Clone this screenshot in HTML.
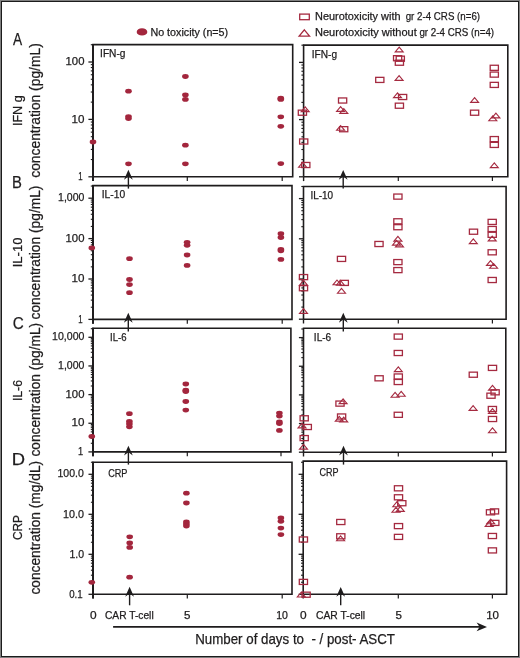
<!DOCTYPE html>
<html><head><meta charset="utf-8"><style>
html,body{margin:0;padding:0;background:#fff;}
svg{display:block;will-change:transform;}
text{font-family:"Liberation Sans", sans-serif;white-space:pre;stroke:#1e1c1d;stroke-width:0.25px;}
</style></head><body>
<svg width="520" height="658" viewBox="0 0 520 658">
<rect x="0" y="0" width="520" height="658" fill="#808080"/>
<rect x="1" y="1" width="518" height="656" fill="#1c1c1c"/>
<rect x="2" y="2" width="516" height="654" fill="#ffffff"/>
<path d="M93.00,176.80 V44.60 H292.70 V176.80 H93.00" fill="none" stroke="#1e1c1d" stroke-width="1.6" stroke-linejoin="miter"/>
<line x1="93.00" y1="44.10" x2="93.00" y2="181.10" stroke="#1e1c1d" stroke-width="1.9"/>
<line x1="93.00" y1="176.80" x2="93.00" y2="181.10" stroke="#1e1c1d" stroke-width="1.4"/>
<line x1="187.30" y1="176.80" x2="187.30" y2="181.10" stroke="#1e1c1d" stroke-width="1.2"/>
<line x1="282.20" y1="176.80" x2="282.20" y2="181.10" stroke="#1e1c1d" stroke-width="1.2"/>
<line x1="88.40" y1="176.80" x2="93.00" y2="176.80" stroke="#1e1c1d" stroke-width="1.3"/>
<line x1="90.80" y1="159.52" x2="93.00" y2="159.52" stroke="#1e1c1d" stroke-width="1.1"/>
<line x1="90.80" y1="149.41" x2="93.00" y2="149.41" stroke="#1e1c1d" stroke-width="1.1"/>
<line x1="90.80" y1="142.24" x2="93.00" y2="142.24" stroke="#1e1c1d" stroke-width="1.1"/>
<line x1="90.80" y1="136.68" x2="93.00" y2="136.68" stroke="#1e1c1d" stroke-width="1.1"/>
<line x1="90.80" y1="132.13" x2="93.00" y2="132.13" stroke="#1e1c1d" stroke-width="1.1"/>
<line x1="90.80" y1="128.29" x2="93.00" y2="128.29" stroke="#1e1c1d" stroke-width="1.1"/>
<line x1="90.80" y1="124.96" x2="93.00" y2="124.96" stroke="#1e1c1d" stroke-width="1.1"/>
<line x1="90.80" y1="122.03" x2="93.00" y2="122.03" stroke="#1e1c1d" stroke-width="1.1"/>
<line x1="88.40" y1="119.40" x2="93.00" y2="119.40" stroke="#1e1c1d" stroke-width="1.3"/>
<line x1="90.80" y1="102.12" x2="93.00" y2="102.12" stroke="#1e1c1d" stroke-width="1.1"/>
<line x1="90.80" y1="92.01" x2="93.00" y2="92.01" stroke="#1e1c1d" stroke-width="1.1"/>
<line x1="90.80" y1="84.84" x2="93.00" y2="84.84" stroke="#1e1c1d" stroke-width="1.1"/>
<line x1="90.80" y1="79.28" x2="93.00" y2="79.28" stroke="#1e1c1d" stroke-width="1.1"/>
<line x1="90.80" y1="74.73" x2="93.00" y2="74.73" stroke="#1e1c1d" stroke-width="1.1"/>
<line x1="90.80" y1="70.89" x2="93.00" y2="70.89" stroke="#1e1c1d" stroke-width="1.1"/>
<line x1="90.80" y1="67.56" x2="93.00" y2="67.56" stroke="#1e1c1d" stroke-width="1.1"/>
<line x1="90.80" y1="64.63" x2="93.00" y2="64.63" stroke="#1e1c1d" stroke-width="1.1"/>
<line x1="88.40" y1="62.00" x2="93.00" y2="62.00" stroke="#1e1c1d" stroke-width="1.3"/>
<line x1="90.80" y1="44.72" x2="93.00" y2="44.72" stroke="#1e1c1d" stroke-width="1.1"/>
<path d="M93.00,319.40 V185.60 H292.00 V319.40 H93.00" fill="none" stroke="#1e1c1d" stroke-width="1.6" stroke-linejoin="miter"/>
<line x1="93.00" y1="185.10" x2="93.00" y2="323.70" stroke="#1e1c1d" stroke-width="1.9"/>
<line x1="93.00" y1="319.40" x2="93.00" y2="323.70" stroke="#1e1c1d" stroke-width="1.4"/>
<line x1="187.30" y1="319.40" x2="187.30" y2="323.70" stroke="#1e1c1d" stroke-width="1.2"/>
<line x1="282.20" y1="319.40" x2="282.20" y2="323.70" stroke="#1e1c1d" stroke-width="1.2"/>
<line x1="88.40" y1="319.40" x2="93.00" y2="319.40" stroke="#1e1c1d" stroke-width="1.3"/>
<line x1="90.80" y1="307.24" x2="93.00" y2="307.24" stroke="#1e1c1d" stroke-width="1.1"/>
<line x1="90.80" y1="300.12" x2="93.00" y2="300.12" stroke="#1e1c1d" stroke-width="1.1"/>
<line x1="90.80" y1="295.08" x2="93.00" y2="295.08" stroke="#1e1c1d" stroke-width="1.1"/>
<line x1="90.80" y1="291.16" x2="93.00" y2="291.16" stroke="#1e1c1d" stroke-width="1.1"/>
<line x1="90.80" y1="287.96" x2="93.00" y2="287.96" stroke="#1e1c1d" stroke-width="1.1"/>
<line x1="90.80" y1="285.26" x2="93.00" y2="285.26" stroke="#1e1c1d" stroke-width="1.1"/>
<line x1="90.80" y1="282.92" x2="93.00" y2="282.92" stroke="#1e1c1d" stroke-width="1.1"/>
<line x1="90.80" y1="280.85" x2="93.00" y2="280.85" stroke="#1e1c1d" stroke-width="1.1"/>
<line x1="88.40" y1="279.00" x2="93.00" y2="279.00" stroke="#1e1c1d" stroke-width="1.3"/>
<line x1="90.80" y1="266.84" x2="93.00" y2="266.84" stroke="#1e1c1d" stroke-width="1.1"/>
<line x1="90.80" y1="259.72" x2="93.00" y2="259.72" stroke="#1e1c1d" stroke-width="1.1"/>
<line x1="90.80" y1="254.68" x2="93.00" y2="254.68" stroke="#1e1c1d" stroke-width="1.1"/>
<line x1="90.80" y1="250.76" x2="93.00" y2="250.76" stroke="#1e1c1d" stroke-width="1.1"/>
<line x1="90.80" y1="247.56" x2="93.00" y2="247.56" stroke="#1e1c1d" stroke-width="1.1"/>
<line x1="90.80" y1="244.86" x2="93.00" y2="244.86" stroke="#1e1c1d" stroke-width="1.1"/>
<line x1="90.80" y1="242.52" x2="93.00" y2="242.52" stroke="#1e1c1d" stroke-width="1.1"/>
<line x1="90.80" y1="240.45" x2="93.00" y2="240.45" stroke="#1e1c1d" stroke-width="1.1"/>
<line x1="88.40" y1="238.60" x2="93.00" y2="238.60" stroke="#1e1c1d" stroke-width="1.3"/>
<line x1="90.80" y1="226.44" x2="93.00" y2="226.44" stroke="#1e1c1d" stroke-width="1.1"/>
<line x1="90.80" y1="219.32" x2="93.00" y2="219.32" stroke="#1e1c1d" stroke-width="1.1"/>
<line x1="90.80" y1="214.28" x2="93.00" y2="214.28" stroke="#1e1c1d" stroke-width="1.1"/>
<line x1="90.80" y1="210.36" x2="93.00" y2="210.36" stroke="#1e1c1d" stroke-width="1.1"/>
<line x1="90.80" y1="207.16" x2="93.00" y2="207.16" stroke="#1e1c1d" stroke-width="1.1"/>
<line x1="90.80" y1="204.46" x2="93.00" y2="204.46" stroke="#1e1c1d" stroke-width="1.1"/>
<line x1="90.80" y1="202.12" x2="93.00" y2="202.12" stroke="#1e1c1d" stroke-width="1.1"/>
<line x1="90.80" y1="200.05" x2="93.00" y2="200.05" stroke="#1e1c1d" stroke-width="1.1"/>
<line x1="88.40" y1="198.20" x2="93.00" y2="198.20" stroke="#1e1c1d" stroke-width="1.3"/>
<line x1="90.80" y1="186.04" x2="93.00" y2="186.04" stroke="#1e1c1d" stroke-width="1.1"/>
<path d="M93.00,451.90 V328.20 H290.90 V451.90 H93.00" fill="none" stroke="#1e1c1d" stroke-width="1.6" stroke-linejoin="miter"/>
<line x1="93.00" y1="327.70" x2="93.00" y2="456.20" stroke="#1e1c1d" stroke-width="1.9"/>
<line x1="93.00" y1="451.90" x2="93.00" y2="456.20" stroke="#1e1c1d" stroke-width="1.4"/>
<line x1="187.30" y1="451.90" x2="187.30" y2="456.20" stroke="#1e1c1d" stroke-width="1.2"/>
<line x1="281.00" y1="451.90" x2="281.00" y2="456.20" stroke="#1e1c1d" stroke-width="1.2"/>
<line x1="88.40" y1="451.90" x2="93.00" y2="451.90" stroke="#1e1c1d" stroke-width="1.3"/>
<line x1="90.80" y1="443.28" x2="93.00" y2="443.28" stroke="#1e1c1d" stroke-width="1.1"/>
<line x1="90.80" y1="438.23" x2="93.00" y2="438.23" stroke="#1e1c1d" stroke-width="1.1"/>
<line x1="90.80" y1="434.65" x2="93.00" y2="434.65" stroke="#1e1c1d" stroke-width="1.1"/>
<line x1="90.80" y1="431.87" x2="93.00" y2="431.87" stroke="#1e1c1d" stroke-width="1.1"/>
<line x1="90.80" y1="429.61" x2="93.00" y2="429.61" stroke="#1e1c1d" stroke-width="1.1"/>
<line x1="90.80" y1="427.69" x2="93.00" y2="427.69" stroke="#1e1c1d" stroke-width="1.1"/>
<line x1="90.80" y1="426.03" x2="93.00" y2="426.03" stroke="#1e1c1d" stroke-width="1.1"/>
<line x1="90.80" y1="424.56" x2="93.00" y2="424.56" stroke="#1e1c1d" stroke-width="1.1"/>
<line x1="88.40" y1="423.25" x2="93.00" y2="423.25" stroke="#1e1c1d" stroke-width="1.3"/>
<line x1="90.80" y1="414.63" x2="93.00" y2="414.63" stroke="#1e1c1d" stroke-width="1.1"/>
<line x1="90.80" y1="409.58" x2="93.00" y2="409.58" stroke="#1e1c1d" stroke-width="1.1"/>
<line x1="90.80" y1="406.00" x2="93.00" y2="406.00" stroke="#1e1c1d" stroke-width="1.1"/>
<line x1="90.80" y1="403.22" x2="93.00" y2="403.22" stroke="#1e1c1d" stroke-width="1.1"/>
<line x1="90.80" y1="400.96" x2="93.00" y2="400.96" stroke="#1e1c1d" stroke-width="1.1"/>
<line x1="90.80" y1="399.04" x2="93.00" y2="399.04" stroke="#1e1c1d" stroke-width="1.1"/>
<line x1="90.80" y1="397.38" x2="93.00" y2="397.38" stroke="#1e1c1d" stroke-width="1.1"/>
<line x1="90.80" y1="395.91" x2="93.00" y2="395.91" stroke="#1e1c1d" stroke-width="1.1"/>
<line x1="88.40" y1="394.60" x2="93.00" y2="394.60" stroke="#1e1c1d" stroke-width="1.3"/>
<line x1="90.80" y1="385.98" x2="93.00" y2="385.98" stroke="#1e1c1d" stroke-width="1.1"/>
<line x1="90.80" y1="380.93" x2="93.00" y2="380.93" stroke="#1e1c1d" stroke-width="1.1"/>
<line x1="90.80" y1="377.35" x2="93.00" y2="377.35" stroke="#1e1c1d" stroke-width="1.1"/>
<line x1="90.80" y1="374.57" x2="93.00" y2="374.57" stroke="#1e1c1d" stroke-width="1.1"/>
<line x1="90.80" y1="372.31" x2="93.00" y2="372.31" stroke="#1e1c1d" stroke-width="1.1"/>
<line x1="90.80" y1="370.39" x2="93.00" y2="370.39" stroke="#1e1c1d" stroke-width="1.1"/>
<line x1="90.80" y1="368.73" x2="93.00" y2="368.73" stroke="#1e1c1d" stroke-width="1.1"/>
<line x1="90.80" y1="367.26" x2="93.00" y2="367.26" stroke="#1e1c1d" stroke-width="1.1"/>
<line x1="88.40" y1="365.95" x2="93.00" y2="365.95" stroke="#1e1c1d" stroke-width="1.3"/>
<line x1="90.80" y1="357.33" x2="93.00" y2="357.33" stroke="#1e1c1d" stroke-width="1.1"/>
<line x1="90.80" y1="352.28" x2="93.00" y2="352.28" stroke="#1e1c1d" stroke-width="1.1"/>
<line x1="90.80" y1="348.70" x2="93.00" y2="348.70" stroke="#1e1c1d" stroke-width="1.1"/>
<line x1="90.80" y1="345.92" x2="93.00" y2="345.92" stroke="#1e1c1d" stroke-width="1.1"/>
<line x1="90.80" y1="343.66" x2="93.00" y2="343.66" stroke="#1e1c1d" stroke-width="1.1"/>
<line x1="90.80" y1="341.74" x2="93.00" y2="341.74" stroke="#1e1c1d" stroke-width="1.1"/>
<line x1="90.80" y1="340.08" x2="93.00" y2="340.08" stroke="#1e1c1d" stroke-width="1.1"/>
<line x1="90.80" y1="338.61" x2="93.00" y2="338.61" stroke="#1e1c1d" stroke-width="1.1"/>
<line x1="88.40" y1="337.30" x2="93.00" y2="337.30" stroke="#1e1c1d" stroke-width="1.3"/>
<line x1="90.80" y1="328.68" x2="93.00" y2="328.68" stroke="#1e1c1d" stroke-width="1.1"/>
<path d="M93.10,594.30 V462.20 H292.00 V594.30 H93.10" fill="none" stroke="#1e1c1d" stroke-width="1.6" stroke-linejoin="miter"/>
<line x1="93.00" y1="461.70" x2="93.00" y2="598.60" stroke="#1e1c1d" stroke-width="1.9"/>
<line x1="93.10" y1="594.30" x2="93.10" y2="598.60" stroke="#1e1c1d" stroke-width="1.4"/>
<line x1="187.30" y1="594.30" x2="187.30" y2="598.60" stroke="#1e1c1d" stroke-width="1.2"/>
<line x1="282.20" y1="594.30" x2="282.20" y2="598.60" stroke="#1e1c1d" stroke-width="1.2"/>
<line x1="88.50" y1="594.30" x2="93.10" y2="594.30" stroke="#1e1c1d" stroke-width="1.3"/>
<line x1="90.90" y1="582.26" x2="93.10" y2="582.26" stroke="#1e1c1d" stroke-width="1.1"/>
<line x1="90.90" y1="575.22" x2="93.10" y2="575.22" stroke="#1e1c1d" stroke-width="1.1"/>
<line x1="90.90" y1="570.22" x2="93.10" y2="570.22" stroke="#1e1c1d" stroke-width="1.1"/>
<line x1="90.90" y1="566.34" x2="93.10" y2="566.34" stroke="#1e1c1d" stroke-width="1.1"/>
<line x1="90.90" y1="563.17" x2="93.10" y2="563.17" stroke="#1e1c1d" stroke-width="1.1"/>
<line x1="90.90" y1="560.50" x2="93.10" y2="560.50" stroke="#1e1c1d" stroke-width="1.1"/>
<line x1="90.90" y1="558.18" x2="93.10" y2="558.18" stroke="#1e1c1d" stroke-width="1.1"/>
<line x1="90.90" y1="556.13" x2="93.10" y2="556.13" stroke="#1e1c1d" stroke-width="1.1"/>
<line x1="88.50" y1="554.30" x2="93.10" y2="554.30" stroke="#1e1c1d" stroke-width="1.3"/>
<line x1="90.90" y1="542.26" x2="93.10" y2="542.26" stroke="#1e1c1d" stroke-width="1.1"/>
<line x1="90.90" y1="535.22" x2="93.10" y2="535.22" stroke="#1e1c1d" stroke-width="1.1"/>
<line x1="90.90" y1="530.22" x2="93.10" y2="530.22" stroke="#1e1c1d" stroke-width="1.1"/>
<line x1="90.90" y1="526.34" x2="93.10" y2="526.34" stroke="#1e1c1d" stroke-width="1.1"/>
<line x1="90.90" y1="523.17" x2="93.10" y2="523.17" stroke="#1e1c1d" stroke-width="1.1"/>
<line x1="90.90" y1="520.50" x2="93.10" y2="520.50" stroke="#1e1c1d" stroke-width="1.1"/>
<line x1="90.90" y1="518.18" x2="93.10" y2="518.18" stroke="#1e1c1d" stroke-width="1.1"/>
<line x1="90.90" y1="516.13" x2="93.10" y2="516.13" stroke="#1e1c1d" stroke-width="1.1"/>
<line x1="88.50" y1="514.30" x2="93.10" y2="514.30" stroke="#1e1c1d" stroke-width="1.3"/>
<line x1="90.90" y1="502.26" x2="93.10" y2="502.26" stroke="#1e1c1d" stroke-width="1.1"/>
<line x1="90.90" y1="495.22" x2="93.10" y2="495.22" stroke="#1e1c1d" stroke-width="1.1"/>
<line x1="90.90" y1="490.22" x2="93.10" y2="490.22" stroke="#1e1c1d" stroke-width="1.1"/>
<line x1="90.90" y1="486.34" x2="93.10" y2="486.34" stroke="#1e1c1d" stroke-width="1.1"/>
<line x1="90.90" y1="483.17" x2="93.10" y2="483.17" stroke="#1e1c1d" stroke-width="1.1"/>
<line x1="90.90" y1="480.50" x2="93.10" y2="480.50" stroke="#1e1c1d" stroke-width="1.1"/>
<line x1="90.90" y1="478.18" x2="93.10" y2="478.18" stroke="#1e1c1d" stroke-width="1.1"/>
<line x1="90.90" y1="476.13" x2="93.10" y2="476.13" stroke="#1e1c1d" stroke-width="1.1"/>
<line x1="88.50" y1="474.30" x2="93.10" y2="474.30" stroke="#1e1c1d" stroke-width="1.3"/>
<line x1="90.90" y1="462.26" x2="93.10" y2="462.26" stroke="#1e1c1d" stroke-width="1.1"/>
<path d="M303.60,176.80 V45.10 H507.80 V176.80 H303.60" fill="none" stroke="#1e1c1d" stroke-width="1.6" stroke-linejoin="miter"/>
<line x1="303.60" y1="176.80" x2="303.60" y2="181.10" stroke="#1e1c1d" stroke-width="1.4"/>
<line x1="398.30" y1="176.80" x2="398.30" y2="181.10" stroke="#1e1c1d" stroke-width="1.2"/>
<line x1="492.40" y1="176.80" x2="492.40" y2="181.10" stroke="#1e1c1d" stroke-width="1.2"/>
<line x1="299.00" y1="176.80" x2="303.60" y2="176.80" stroke="#1e1c1d" stroke-width="1.3"/>
<line x1="301.40" y1="159.58" x2="303.60" y2="159.58" stroke="#1e1c1d" stroke-width="1.1"/>
<line x1="301.40" y1="149.51" x2="303.60" y2="149.51" stroke="#1e1c1d" stroke-width="1.1"/>
<line x1="301.40" y1="142.36" x2="303.60" y2="142.36" stroke="#1e1c1d" stroke-width="1.1"/>
<line x1="301.40" y1="136.82" x2="303.60" y2="136.82" stroke="#1e1c1d" stroke-width="1.1"/>
<line x1="301.40" y1="132.29" x2="303.60" y2="132.29" stroke="#1e1c1d" stroke-width="1.1"/>
<line x1="301.40" y1="128.46" x2="303.60" y2="128.46" stroke="#1e1c1d" stroke-width="1.1"/>
<line x1="301.40" y1="125.14" x2="303.60" y2="125.14" stroke="#1e1c1d" stroke-width="1.1"/>
<line x1="301.40" y1="122.22" x2="303.60" y2="122.22" stroke="#1e1c1d" stroke-width="1.1"/>
<line x1="299.00" y1="119.60" x2="303.60" y2="119.60" stroke="#1e1c1d" stroke-width="1.3"/>
<line x1="301.40" y1="102.38" x2="303.60" y2="102.38" stroke="#1e1c1d" stroke-width="1.1"/>
<line x1="301.40" y1="92.31" x2="303.60" y2="92.31" stroke="#1e1c1d" stroke-width="1.1"/>
<line x1="301.40" y1="85.16" x2="303.60" y2="85.16" stroke="#1e1c1d" stroke-width="1.1"/>
<line x1="301.40" y1="79.62" x2="303.60" y2="79.62" stroke="#1e1c1d" stroke-width="1.1"/>
<line x1="301.40" y1="75.09" x2="303.60" y2="75.09" stroke="#1e1c1d" stroke-width="1.1"/>
<line x1="301.40" y1="71.26" x2="303.60" y2="71.26" stroke="#1e1c1d" stroke-width="1.1"/>
<line x1="301.40" y1="67.94" x2="303.60" y2="67.94" stroke="#1e1c1d" stroke-width="1.1"/>
<line x1="301.40" y1="65.02" x2="303.60" y2="65.02" stroke="#1e1c1d" stroke-width="1.1"/>
<line x1="299.00" y1="62.40" x2="303.60" y2="62.40" stroke="#1e1c1d" stroke-width="1.3"/>
<line x1="301.40" y1="45.18" x2="303.60" y2="45.18" stroke="#1e1c1d" stroke-width="1.1"/>
<path d="M303.50,319.20 V186.50 H506.10 V319.20 H303.50" fill="none" stroke="#1e1c1d" stroke-width="1.6" stroke-linejoin="miter"/>
<line x1="303.50" y1="319.20" x2="303.50" y2="323.50" stroke="#1e1c1d" stroke-width="1.4"/>
<line x1="398.30" y1="319.20" x2="398.30" y2="323.50" stroke="#1e1c1d" stroke-width="1.2"/>
<line x1="492.40" y1="319.20" x2="492.40" y2="323.50" stroke="#1e1c1d" stroke-width="1.2"/>
<line x1="298.90" y1="319.20" x2="303.50" y2="319.20" stroke="#1e1c1d" stroke-width="1.3"/>
<line x1="301.30" y1="307.10" x2="303.50" y2="307.10" stroke="#1e1c1d" stroke-width="1.1"/>
<line x1="301.30" y1="300.02" x2="303.50" y2="300.02" stroke="#1e1c1d" stroke-width="1.1"/>
<line x1="301.30" y1="295.00" x2="303.50" y2="295.00" stroke="#1e1c1d" stroke-width="1.1"/>
<line x1="301.30" y1="291.10" x2="303.50" y2="291.10" stroke="#1e1c1d" stroke-width="1.1"/>
<line x1="301.30" y1="287.92" x2="303.50" y2="287.92" stroke="#1e1c1d" stroke-width="1.1"/>
<line x1="301.30" y1="285.23" x2="303.50" y2="285.23" stroke="#1e1c1d" stroke-width="1.1"/>
<line x1="301.30" y1="282.90" x2="303.50" y2="282.90" stroke="#1e1c1d" stroke-width="1.1"/>
<line x1="301.30" y1="280.84" x2="303.50" y2="280.84" stroke="#1e1c1d" stroke-width="1.1"/>
<line x1="298.90" y1="279.00" x2="303.50" y2="279.00" stroke="#1e1c1d" stroke-width="1.3"/>
<line x1="301.30" y1="266.90" x2="303.50" y2="266.90" stroke="#1e1c1d" stroke-width="1.1"/>
<line x1="301.30" y1="259.82" x2="303.50" y2="259.82" stroke="#1e1c1d" stroke-width="1.1"/>
<line x1="301.30" y1="254.80" x2="303.50" y2="254.80" stroke="#1e1c1d" stroke-width="1.1"/>
<line x1="301.30" y1="250.90" x2="303.50" y2="250.90" stroke="#1e1c1d" stroke-width="1.1"/>
<line x1="301.30" y1="247.72" x2="303.50" y2="247.72" stroke="#1e1c1d" stroke-width="1.1"/>
<line x1="301.30" y1="245.03" x2="303.50" y2="245.03" stroke="#1e1c1d" stroke-width="1.1"/>
<line x1="301.30" y1="242.70" x2="303.50" y2="242.70" stroke="#1e1c1d" stroke-width="1.1"/>
<line x1="301.30" y1="240.64" x2="303.50" y2="240.64" stroke="#1e1c1d" stroke-width="1.1"/>
<line x1="298.90" y1="238.80" x2="303.50" y2="238.80" stroke="#1e1c1d" stroke-width="1.3"/>
<line x1="301.30" y1="226.70" x2="303.50" y2="226.70" stroke="#1e1c1d" stroke-width="1.1"/>
<line x1="301.30" y1="219.62" x2="303.50" y2="219.62" stroke="#1e1c1d" stroke-width="1.1"/>
<line x1="301.30" y1="214.60" x2="303.50" y2="214.60" stroke="#1e1c1d" stroke-width="1.1"/>
<line x1="301.30" y1="210.70" x2="303.50" y2="210.70" stroke="#1e1c1d" stroke-width="1.1"/>
<line x1="301.30" y1="207.52" x2="303.50" y2="207.52" stroke="#1e1c1d" stroke-width="1.1"/>
<line x1="301.30" y1="204.83" x2="303.50" y2="204.83" stroke="#1e1c1d" stroke-width="1.1"/>
<line x1="301.30" y1="202.50" x2="303.50" y2="202.50" stroke="#1e1c1d" stroke-width="1.1"/>
<line x1="301.30" y1="200.44" x2="303.50" y2="200.44" stroke="#1e1c1d" stroke-width="1.1"/>
<line x1="298.90" y1="198.60" x2="303.50" y2="198.60" stroke="#1e1c1d" stroke-width="1.3"/>
<line x1="301.30" y1="186.50" x2="303.50" y2="186.50" stroke="#1e1c1d" stroke-width="1.1"/>
<path d="M303.50,452.20 V328.20 H505.80 V452.20 H303.50" fill="none" stroke="#1e1c1d" stroke-width="1.6" stroke-linejoin="miter"/>
<line x1="303.50" y1="452.20" x2="303.50" y2="456.50" stroke="#1e1c1d" stroke-width="1.4"/>
<line x1="398.30" y1="452.20" x2="398.30" y2="456.50" stroke="#1e1c1d" stroke-width="1.2"/>
<line x1="492.40" y1="452.20" x2="492.40" y2="456.50" stroke="#1e1c1d" stroke-width="1.2"/>
<line x1="298.90" y1="452.20" x2="303.50" y2="452.20" stroke="#1e1c1d" stroke-width="1.3"/>
<line x1="301.30" y1="443.58" x2="303.50" y2="443.58" stroke="#1e1c1d" stroke-width="1.1"/>
<line x1="301.30" y1="438.53" x2="303.50" y2="438.53" stroke="#1e1c1d" stroke-width="1.1"/>
<line x1="301.30" y1="434.95" x2="303.50" y2="434.95" stroke="#1e1c1d" stroke-width="1.1"/>
<line x1="301.30" y1="432.17" x2="303.50" y2="432.17" stroke="#1e1c1d" stroke-width="1.1"/>
<line x1="301.30" y1="429.91" x2="303.50" y2="429.91" stroke="#1e1c1d" stroke-width="1.1"/>
<line x1="301.30" y1="427.99" x2="303.50" y2="427.99" stroke="#1e1c1d" stroke-width="1.1"/>
<line x1="301.30" y1="426.33" x2="303.50" y2="426.33" stroke="#1e1c1d" stroke-width="1.1"/>
<line x1="301.30" y1="424.86" x2="303.50" y2="424.86" stroke="#1e1c1d" stroke-width="1.1"/>
<line x1="298.90" y1="423.55" x2="303.50" y2="423.55" stroke="#1e1c1d" stroke-width="1.3"/>
<line x1="301.30" y1="414.93" x2="303.50" y2="414.93" stroke="#1e1c1d" stroke-width="1.1"/>
<line x1="301.30" y1="409.88" x2="303.50" y2="409.88" stroke="#1e1c1d" stroke-width="1.1"/>
<line x1="301.30" y1="406.30" x2="303.50" y2="406.30" stroke="#1e1c1d" stroke-width="1.1"/>
<line x1="301.30" y1="403.52" x2="303.50" y2="403.52" stroke="#1e1c1d" stroke-width="1.1"/>
<line x1="301.30" y1="401.26" x2="303.50" y2="401.26" stroke="#1e1c1d" stroke-width="1.1"/>
<line x1="301.30" y1="399.34" x2="303.50" y2="399.34" stroke="#1e1c1d" stroke-width="1.1"/>
<line x1="301.30" y1="397.68" x2="303.50" y2="397.68" stroke="#1e1c1d" stroke-width="1.1"/>
<line x1="301.30" y1="396.21" x2="303.50" y2="396.21" stroke="#1e1c1d" stroke-width="1.1"/>
<line x1="298.90" y1="394.90" x2="303.50" y2="394.90" stroke="#1e1c1d" stroke-width="1.3"/>
<line x1="301.30" y1="386.28" x2="303.50" y2="386.28" stroke="#1e1c1d" stroke-width="1.1"/>
<line x1="301.30" y1="381.23" x2="303.50" y2="381.23" stroke="#1e1c1d" stroke-width="1.1"/>
<line x1="301.30" y1="377.65" x2="303.50" y2="377.65" stroke="#1e1c1d" stroke-width="1.1"/>
<line x1="301.30" y1="374.87" x2="303.50" y2="374.87" stroke="#1e1c1d" stroke-width="1.1"/>
<line x1="301.30" y1="372.61" x2="303.50" y2="372.61" stroke="#1e1c1d" stroke-width="1.1"/>
<line x1="301.30" y1="370.69" x2="303.50" y2="370.69" stroke="#1e1c1d" stroke-width="1.1"/>
<line x1="301.30" y1="369.03" x2="303.50" y2="369.03" stroke="#1e1c1d" stroke-width="1.1"/>
<line x1="301.30" y1="367.56" x2="303.50" y2="367.56" stroke="#1e1c1d" stroke-width="1.1"/>
<line x1="298.90" y1="366.25" x2="303.50" y2="366.25" stroke="#1e1c1d" stroke-width="1.3"/>
<line x1="301.30" y1="357.63" x2="303.50" y2="357.63" stroke="#1e1c1d" stroke-width="1.1"/>
<line x1="301.30" y1="352.58" x2="303.50" y2="352.58" stroke="#1e1c1d" stroke-width="1.1"/>
<line x1="301.30" y1="349.00" x2="303.50" y2="349.00" stroke="#1e1c1d" stroke-width="1.1"/>
<line x1="301.30" y1="346.22" x2="303.50" y2="346.22" stroke="#1e1c1d" stroke-width="1.1"/>
<line x1="301.30" y1="343.96" x2="303.50" y2="343.96" stroke="#1e1c1d" stroke-width="1.1"/>
<line x1="301.30" y1="342.04" x2="303.50" y2="342.04" stroke="#1e1c1d" stroke-width="1.1"/>
<line x1="301.30" y1="340.38" x2="303.50" y2="340.38" stroke="#1e1c1d" stroke-width="1.1"/>
<line x1="301.30" y1="338.91" x2="303.50" y2="338.91" stroke="#1e1c1d" stroke-width="1.1"/>
<line x1="298.90" y1="337.60" x2="303.50" y2="337.60" stroke="#1e1c1d" stroke-width="1.3"/>
<line x1="301.30" y1="328.98" x2="303.50" y2="328.98" stroke="#1e1c1d" stroke-width="1.1"/>
<path d="M303.20,594.30 V461.10 H506.60 V594.30 H303.20" fill="none" stroke="#1e1c1d" stroke-width="1.6" stroke-linejoin="miter"/>
<line x1="303.20" y1="594.30" x2="303.20" y2="598.60" stroke="#1e1c1d" stroke-width="1.4"/>
<line x1="398.30" y1="594.30" x2="398.30" y2="598.60" stroke="#1e1c1d" stroke-width="1.2"/>
<line x1="492.40" y1="594.30" x2="492.40" y2="598.60" stroke="#1e1c1d" stroke-width="1.2"/>
<line x1="298.60" y1="594.30" x2="303.20" y2="594.30" stroke="#1e1c1d" stroke-width="1.3"/>
<line x1="301.00" y1="582.26" x2="303.20" y2="582.26" stroke="#1e1c1d" stroke-width="1.1"/>
<line x1="301.00" y1="575.22" x2="303.20" y2="575.22" stroke="#1e1c1d" stroke-width="1.1"/>
<line x1="301.00" y1="570.22" x2="303.20" y2="570.22" stroke="#1e1c1d" stroke-width="1.1"/>
<line x1="301.00" y1="566.34" x2="303.20" y2="566.34" stroke="#1e1c1d" stroke-width="1.1"/>
<line x1="301.00" y1="563.17" x2="303.20" y2="563.17" stroke="#1e1c1d" stroke-width="1.1"/>
<line x1="301.00" y1="560.50" x2="303.20" y2="560.50" stroke="#1e1c1d" stroke-width="1.1"/>
<line x1="301.00" y1="558.18" x2="303.20" y2="558.18" stroke="#1e1c1d" stroke-width="1.1"/>
<line x1="301.00" y1="556.13" x2="303.20" y2="556.13" stroke="#1e1c1d" stroke-width="1.1"/>
<line x1="298.60" y1="554.30" x2="303.20" y2="554.30" stroke="#1e1c1d" stroke-width="1.3"/>
<line x1="301.00" y1="542.26" x2="303.20" y2="542.26" stroke="#1e1c1d" stroke-width="1.1"/>
<line x1="301.00" y1="535.22" x2="303.20" y2="535.22" stroke="#1e1c1d" stroke-width="1.1"/>
<line x1="301.00" y1="530.22" x2="303.20" y2="530.22" stroke="#1e1c1d" stroke-width="1.1"/>
<line x1="301.00" y1="526.34" x2="303.20" y2="526.34" stroke="#1e1c1d" stroke-width="1.1"/>
<line x1="301.00" y1="523.17" x2="303.20" y2="523.17" stroke="#1e1c1d" stroke-width="1.1"/>
<line x1="301.00" y1="520.50" x2="303.20" y2="520.50" stroke="#1e1c1d" stroke-width="1.1"/>
<line x1="301.00" y1="518.18" x2="303.20" y2="518.18" stroke="#1e1c1d" stroke-width="1.1"/>
<line x1="301.00" y1="516.13" x2="303.20" y2="516.13" stroke="#1e1c1d" stroke-width="1.1"/>
<line x1="298.60" y1="514.30" x2="303.20" y2="514.30" stroke="#1e1c1d" stroke-width="1.3"/>
<line x1="301.00" y1="502.26" x2="303.20" y2="502.26" stroke="#1e1c1d" stroke-width="1.1"/>
<line x1="301.00" y1="495.22" x2="303.20" y2="495.22" stroke="#1e1c1d" stroke-width="1.1"/>
<line x1="301.00" y1="490.22" x2="303.20" y2="490.22" stroke="#1e1c1d" stroke-width="1.1"/>
<line x1="301.00" y1="486.34" x2="303.20" y2="486.34" stroke="#1e1c1d" stroke-width="1.1"/>
<line x1="301.00" y1="483.17" x2="303.20" y2="483.17" stroke="#1e1c1d" stroke-width="1.1"/>
<line x1="301.00" y1="480.50" x2="303.20" y2="480.50" stroke="#1e1c1d" stroke-width="1.1"/>
<line x1="301.00" y1="478.18" x2="303.20" y2="478.18" stroke="#1e1c1d" stroke-width="1.1"/>
<line x1="301.00" y1="476.13" x2="303.20" y2="476.13" stroke="#1e1c1d" stroke-width="1.1"/>
<line x1="298.60" y1="474.30" x2="303.20" y2="474.30" stroke="#1e1c1d" stroke-width="1.3"/>
<line x1="301.00" y1="462.26" x2="303.20" y2="462.26" stroke="#1e1c1d" stroke-width="1.1"/>
<line x1="128.40" y1="175.80" x2="128.40" y2="188.60" stroke="#1e1c1d" stroke-width="1.4"/>
<path d="M128.40,169.80 L132.80,179.70 L128.40,176.40 L124.00,179.70 Z" fill="#1e1c1d"/>
<line x1="128.30" y1="318.80" x2="128.30" y2="331.60" stroke="#1e1c1d" stroke-width="1.4"/>
<path d="M128.30,312.80 L132.70,322.70 L128.30,319.40 L123.90,322.70 Z" fill="#1e1c1d"/>
<line x1="128.40" y1="451.70" x2="128.40" y2="464.60" stroke="#1e1c1d" stroke-width="1.4"/>
<path d="M128.40,445.70 L132.80,455.60 L128.40,452.30 L124.00,455.60 Z" fill="#1e1c1d"/>
<line x1="129.60" y1="592.80" x2="129.60" y2="605.30" stroke="#1e1c1d" stroke-width="1.4"/>
<path d="M129.60,586.80 L134.00,596.70 L129.60,593.40 L125.20,596.70 Z" fill="#1e1c1d"/>
<line x1="343.20" y1="175.90" x2="343.20" y2="188.60" stroke="#1e1c1d" stroke-width="1.4"/>
<path d="M343.20,169.90 L347.60,179.80 L343.20,176.50 L338.80,179.80 Z" fill="#1e1c1d"/>
<line x1="343.30" y1="318.80" x2="343.30" y2="331.60" stroke="#1e1c1d" stroke-width="1.4"/>
<path d="M343.30,312.80 L347.70,322.70 L343.30,319.40 L338.90,322.70 Z" fill="#1e1c1d"/>
<line x1="343.50" y1="451.70" x2="343.50" y2="464.60" stroke="#1e1c1d" stroke-width="1.4"/>
<path d="M343.50,445.70 L347.90,455.60 L343.50,452.30 L339.10,455.60 Z" fill="#1e1c1d"/>
<line x1="340.70" y1="592.90" x2="340.70" y2="605.30" stroke="#1e1c1d" stroke-width="1.4"/>
<path d="M340.70,586.90 L345.10,596.80 L340.70,593.50 L336.30,596.80 Z" fill="#1e1c1d"/>
<line x1="113.10" y1="626.90" x2="482.00" y2="626.90" stroke="#1e1c1d" stroke-width="1.7"/>
<path d="M487.0,626.9 L476.6,622.6 L479.6,626.9 L476.6,631.2 Z" fill="#1e1c1d"/>
<ellipse cx="93.00" cy="142.00" rx="3.3" ry="2.4" fill="#a3263d"/>
<ellipse cx="128.50" cy="91.20" rx="3.3" ry="2.4" fill="#a3263d"/>
<ellipse cx="128.50" cy="116.60" rx="3.3" ry="2.4" fill="#a3263d"/>
<ellipse cx="128.50" cy="118.60" rx="3.3" ry="2.4" fill="#a3263d"/>
<ellipse cx="128.50" cy="163.80" rx="3.3" ry="2.4" fill="#a3263d"/>
<ellipse cx="185.40" cy="76.50" rx="3.3" ry="2.4" fill="#a3263d"/>
<ellipse cx="185.40" cy="95.00" rx="3.3" ry="2.4" fill="#a3263d"/>
<ellipse cx="185.40" cy="99.40" rx="3.3" ry="2.4" fill="#a3263d"/>
<ellipse cx="185.40" cy="145.20" rx="3.3" ry="2.4" fill="#a3263d"/>
<ellipse cx="185.40" cy="163.80" rx="3.3" ry="2.4" fill="#a3263d"/>
<ellipse cx="280.80" cy="98.20" rx="3.3" ry="2.4" fill="#a3263d"/>
<ellipse cx="280.80" cy="99.40" rx="3.3" ry="2.4" fill="#a3263d"/>
<ellipse cx="280.80" cy="116.80" rx="3.3" ry="2.4" fill="#a3263d"/>
<ellipse cx="280.80" cy="126.30" rx="3.3" ry="2.4" fill="#a3263d"/>
<ellipse cx="280.80" cy="163.60" rx="3.3" ry="2.4" fill="#a3263d"/>
<ellipse cx="91.80" cy="247.90" rx="3.3" ry="2.4" fill="#a3263d"/>
<ellipse cx="129.50" cy="258.70" rx="3.3" ry="2.4" fill="#a3263d"/>
<ellipse cx="129.50" cy="279.50" rx="3.3" ry="2.4" fill="#a3263d"/>
<ellipse cx="129.50" cy="284.60" rx="3.3" ry="2.4" fill="#a3263d"/>
<ellipse cx="129.50" cy="292.70" rx="3.3" ry="2.4" fill="#a3263d"/>
<ellipse cx="187.10" cy="242.30" rx="3.3" ry="2.4" fill="#a3263d"/>
<ellipse cx="187.10" cy="245.30" rx="3.3" ry="2.4" fill="#a3263d"/>
<ellipse cx="187.10" cy="255.00" rx="3.3" ry="2.4" fill="#a3263d"/>
<ellipse cx="187.10" cy="265.40" rx="3.3" ry="2.4" fill="#a3263d"/>
<ellipse cx="280.90" cy="233.70" rx="3.3" ry="2.4" fill="#a3263d"/>
<ellipse cx="280.90" cy="237.50" rx="3.3" ry="2.4" fill="#a3263d"/>
<ellipse cx="280.90" cy="249.40" rx="3.3" ry="2.4" fill="#a3263d"/>
<ellipse cx="280.90" cy="250.80" rx="3.3" ry="2.4" fill="#a3263d"/>
<ellipse cx="280.90" cy="259.40" rx="3.3" ry="2.4" fill="#a3263d"/>
<ellipse cx="91.80" cy="436.40" rx="3.3" ry="2.4" fill="#a3263d"/>
<ellipse cx="129.40" cy="413.70" rx="3.3" ry="2.4" fill="#a3263d"/>
<ellipse cx="129.40" cy="421.50" rx="3.3" ry="2.4" fill="#a3263d"/>
<ellipse cx="129.40" cy="424.00" rx="3.3" ry="2.4" fill="#a3263d"/>
<ellipse cx="129.40" cy="426.80" rx="3.3" ry="2.4" fill="#a3263d"/>
<ellipse cx="185.80" cy="384.00" rx="3.3" ry="2.4" fill="#a3263d"/>
<ellipse cx="185.80" cy="390.20" rx="3.3" ry="2.4" fill="#a3263d"/>
<ellipse cx="185.80" cy="391.50" rx="3.3" ry="2.4" fill="#a3263d"/>
<ellipse cx="185.80" cy="401.50" rx="3.3" ry="2.4" fill="#a3263d"/>
<ellipse cx="185.80" cy="410.10" rx="3.3" ry="2.4" fill="#a3263d"/>
<ellipse cx="279.40" cy="413.10" rx="3.3" ry="2.4" fill="#a3263d"/>
<ellipse cx="279.40" cy="416.10" rx="3.3" ry="2.4" fill="#a3263d"/>
<ellipse cx="279.40" cy="421.90" rx="3.3" ry="2.4" fill="#a3263d"/>
<ellipse cx="279.40" cy="423.60" rx="3.3" ry="2.4" fill="#a3263d"/>
<ellipse cx="279.40" cy="430.40" rx="3.3" ry="2.4" fill="#a3263d"/>
<ellipse cx="91.80" cy="582.30" rx="3.3" ry="2.4" fill="#a3263d"/>
<ellipse cx="129.70" cy="536.80" rx="3.3" ry="2.4" fill="#a3263d"/>
<ellipse cx="129.70" cy="543.00" rx="3.3" ry="2.4" fill="#a3263d"/>
<ellipse cx="129.70" cy="547.40" rx="3.3" ry="2.4" fill="#a3263d"/>
<ellipse cx="129.60" cy="577.20" rx="3.3" ry="2.4" fill="#a3263d"/>
<ellipse cx="186.40" cy="493.20" rx="3.3" ry="2.4" fill="#a3263d"/>
<ellipse cx="186.40" cy="503.00" rx="3.3" ry="2.4" fill="#a3263d"/>
<ellipse cx="186.40" cy="522.00" rx="3.3" ry="2.4" fill="#a3263d"/>
<ellipse cx="186.40" cy="524.00" rx="3.3" ry="2.4" fill="#a3263d"/>
<ellipse cx="186.40" cy="526.00" rx="3.3" ry="2.4" fill="#a3263d"/>
<ellipse cx="280.90" cy="517.90" rx="3.3" ry="2.4" fill="#a3263d"/>
<ellipse cx="280.90" cy="521.30" rx="3.3" ry="2.4" fill="#a3263d"/>
<ellipse cx="280.90" cy="528.10" rx="3.3" ry="2.4" fill="#a3263d"/>
<ellipse cx="280.90" cy="534.60" rx="3.3" ry="2.4" fill="#a3263d"/>
<rect x="298.30" y="110.15" width="8.2" height="5.1" fill="none" stroke="#a52a40" stroke-width="1.3"/>
<rect x="299.60" y="138.95" width="8.2" height="5.1" fill="none" stroke="#a52a40" stroke-width="1.3"/>
<rect x="301.70" y="162.45" width="8.2" height="5.1" fill="none" stroke="#a52a40" stroke-width="1.3"/>
<rect x="338.50" y="97.95" width="8.2" height="5.1" fill="none" stroke="#a52a40" stroke-width="1.3"/>
<rect x="339.60" y="126.65" width="8.2" height="5.1" fill="none" stroke="#a52a40" stroke-width="1.3"/>
<rect x="375.70" y="77.35" width="8.2" height="5.1" fill="none" stroke="#a52a40" stroke-width="1.3"/>
<rect x="393.50" y="55.65" width="8.2" height="5.1" fill="none" stroke="#a52a40" stroke-width="1.3"/>
<rect x="396.20" y="56.15" width="8.2" height="5.1" fill="none" stroke="#a52a40" stroke-width="1.3"/>
<rect x="395.30" y="60.15" width="8.2" height="5.1" fill="none" stroke="#a52a40" stroke-width="1.3"/>
<rect x="398.50" y="94.45" width="8.2" height="5.1" fill="none" stroke="#a52a40" stroke-width="1.3"/>
<rect x="395.30" y="103.15" width="8.2" height="5.1" fill="none" stroke="#a52a40" stroke-width="1.3"/>
<rect x="470.50" y="110.15" width="8.2" height="5.1" fill="none" stroke="#a52a40" stroke-width="1.3"/>
<rect x="490.20" y="65.25" width="8.2" height="5.1" fill="none" stroke="#a52a40" stroke-width="1.3"/>
<rect x="490.20" y="72.05" width="8.2" height="5.1" fill="none" stroke="#a52a40" stroke-width="1.3"/>
<rect x="490.20" y="82.35" width="8.2" height="5.1" fill="none" stroke="#a52a40" stroke-width="1.3"/>
<rect x="490.20" y="136.55" width="8.2" height="5.1" fill="none" stroke="#a52a40" stroke-width="1.3"/>
<rect x="490.20" y="142.35" width="8.2" height="5.1" fill="none" stroke="#a52a40" stroke-width="1.3"/>
<rect x="299.40" y="274.55" width="8.2" height="5.1" fill="none" stroke="#a52a40" stroke-width="1.3"/>
<rect x="299.40" y="285.65" width="8.2" height="5.1" fill="none" stroke="#a52a40" stroke-width="1.3"/>
<rect x="337.40" y="256.35" width="8.2" height="5.1" fill="none" stroke="#a52a40" stroke-width="1.3"/>
<rect x="340.20" y="280.35" width="8.2" height="5.1" fill="none" stroke="#a52a40" stroke-width="1.3"/>
<rect x="374.90" y="241.45" width="8.2" height="5.1" fill="none" stroke="#a52a40" stroke-width="1.3"/>
<rect x="393.80" y="194.05" width="8.2" height="5.1" fill="none" stroke="#a52a40" stroke-width="1.3"/>
<rect x="393.80" y="218.75" width="8.2" height="5.1" fill="none" stroke="#a52a40" stroke-width="1.3"/>
<rect x="393.80" y="224.65" width="8.2" height="5.1" fill="none" stroke="#a52a40" stroke-width="1.3"/>
<rect x="393.80" y="259.55" width="8.2" height="5.1" fill="none" stroke="#a52a40" stroke-width="1.3"/>
<rect x="393.80" y="267.55" width="8.2" height="5.1" fill="none" stroke="#a52a40" stroke-width="1.3"/>
<rect x="469.40" y="229.15" width="8.2" height="5.1" fill="none" stroke="#a52a40" stroke-width="1.3"/>
<rect x="488.10" y="219.35" width="8.2" height="5.1" fill="none" stroke="#a52a40" stroke-width="1.3"/>
<rect x="488.10" y="226.45" width="8.2" height="5.1" fill="none" stroke="#a52a40" stroke-width="1.3"/>
<rect x="488.10" y="232.25" width="8.2" height="5.1" fill="none" stroke="#a52a40" stroke-width="1.3"/>
<rect x="488.10" y="249.75" width="8.2" height="5.1" fill="none" stroke="#a52a40" stroke-width="1.3"/>
<rect x="488.10" y="277.45" width="8.2" height="5.1" fill="none" stroke="#a52a40" stroke-width="1.3"/>
<rect x="300.10" y="415.75" width="8.2" height="5.1" fill="none" stroke="#a52a40" stroke-width="1.3"/>
<rect x="303.20" y="424.45" width="8.2" height="5.1" fill="none" stroke="#a52a40" stroke-width="1.3"/>
<rect x="300.10" y="435.55" width="8.2" height="5.1" fill="none" stroke="#a52a40" stroke-width="1.3"/>
<rect x="335.90" y="401.05" width="8.2" height="5.1" fill="none" stroke="#a52a40" stroke-width="1.3"/>
<rect x="337.50" y="413.95" width="8.2" height="5.1" fill="none" stroke="#a52a40" stroke-width="1.3"/>
<rect x="375.00" y="375.75" width="8.2" height="5.1" fill="none" stroke="#a52a40" stroke-width="1.3"/>
<rect x="394.20" y="334.05" width="8.2" height="5.1" fill="none" stroke="#a52a40" stroke-width="1.3"/>
<rect x="394.20" y="350.45" width="8.2" height="5.1" fill="none" stroke="#a52a40" stroke-width="1.3"/>
<rect x="394.20" y="373.95" width="8.2" height="5.1" fill="none" stroke="#a52a40" stroke-width="1.3"/>
<rect x="394.20" y="379.45" width="8.2" height="5.1" fill="none" stroke="#a52a40" stroke-width="1.3"/>
<rect x="394.20" y="412.25" width="8.2" height="5.1" fill="none" stroke="#a52a40" stroke-width="1.3"/>
<rect x="469.20" y="372.15" width="8.2" height="5.1" fill="none" stroke="#a52a40" stroke-width="1.3"/>
<rect x="488.40" y="365.35" width="8.2" height="5.1" fill="none" stroke="#a52a40" stroke-width="1.3"/>
<rect x="491.00" y="389.75" width="8.2" height="5.1" fill="none" stroke="#a52a40" stroke-width="1.3"/>
<rect x="486.90" y="393.15" width="8.2" height="5.1" fill="none" stroke="#a52a40" stroke-width="1.3"/>
<rect x="488.30" y="406.45" width="8.2" height="5.1" fill="none" stroke="#a52a40" stroke-width="1.3"/>
<rect x="488.40" y="416.45" width="8.2" height="5.1" fill="none" stroke="#a52a40" stroke-width="1.3"/>
<rect x="299.30" y="536.95" width="8.2" height="5.1" fill="none" stroke="#a52a40" stroke-width="1.3"/>
<rect x="299.30" y="579.35" width="8.2" height="5.1" fill="none" stroke="#a52a40" stroke-width="1.3"/>
<rect x="302.00" y="592.15" width="8.2" height="5.1" fill="none" stroke="#a52a40" stroke-width="1.3"/>
<rect x="336.70" y="519.45" width="8.2" height="5.1" fill="none" stroke="#a52a40" stroke-width="1.3"/>
<rect x="336.70" y="533.75" width="8.2" height="5.1" fill="none" stroke="#a52a40" stroke-width="1.3"/>
<rect x="394.40" y="485.75" width="8.2" height="5.1" fill="none" stroke="#a52a40" stroke-width="1.3"/>
<rect x="394.40" y="494.75" width="8.2" height="5.1" fill="none" stroke="#a52a40" stroke-width="1.3"/>
<rect x="397.70" y="500.65" width="8.2" height="5.1" fill="none" stroke="#a52a40" stroke-width="1.3"/>
<rect x="394.40" y="523.55" width="8.2" height="5.1" fill="none" stroke="#a52a40" stroke-width="1.3"/>
<rect x="394.40" y="534.35" width="8.2" height="5.1" fill="none" stroke="#a52a40" stroke-width="1.3"/>
<rect x="486.40" y="509.75" width="8.2" height="5.1" fill="none" stroke="#a52a40" stroke-width="1.3"/>
<rect x="490.40" y="508.85" width="8.2" height="5.1" fill="none" stroke="#a52a40" stroke-width="1.3"/>
<rect x="490.70" y="520.35" width="8.2" height="5.1" fill="none" stroke="#a52a40" stroke-width="1.3"/>
<rect x="488.30" y="533.45" width="8.2" height="5.1" fill="none" stroke="#a52a40" stroke-width="1.3"/>
<rect x="488.30" y="547.85" width="8.2" height="5.1" fill="none" stroke="#a52a40" stroke-width="1.3"/>
<path d="M305.20,106.80 L309.20,111.60 L301.20,111.60 Z" fill="none" stroke="#a52a40" stroke-width="1.1" stroke-linejoin="miter"/>
<path d="M302.60,162.40 L306.60,167.20 L298.60,167.20 Z" fill="none" stroke="#a52a40" stroke-width="1.1" stroke-linejoin="miter"/>
<path d="M340.60,106.60 L344.60,111.40 L336.60,111.40 Z" fill="none" stroke="#a52a40" stroke-width="1.1" stroke-linejoin="miter"/>
<path d="M343.80,108.60 L347.80,113.40 L339.80,113.40 Z" fill="none" stroke="#a52a40" stroke-width="1.1" stroke-linejoin="miter"/>
<path d="M340.60,125.50 L344.60,130.30 L336.60,130.30 Z" fill="none" stroke="#a52a40" stroke-width="1.1" stroke-linejoin="miter"/>
<path d="M399.20,47.10 L403.20,51.90 L395.20,51.90 Z" fill="none" stroke="#a52a40" stroke-width="1.1" stroke-linejoin="miter"/>
<path d="M399.10,75.60 L403.10,80.40 L395.10,80.40 Z" fill="none" stroke="#a52a40" stroke-width="1.1" stroke-linejoin="miter"/>
<path d="M397.50,92.80 L401.50,97.60 L393.50,97.60 Z" fill="none" stroke="#a52a40" stroke-width="1.1" stroke-linejoin="miter"/>
<path d="M474.60,97.60 L478.60,102.40 L470.60,102.40 Z" fill="none" stroke="#a52a40" stroke-width="1.1" stroke-linejoin="miter"/>
<path d="M495.90,113.10 L499.90,117.90 L491.90,117.90 Z" fill="none" stroke="#a52a40" stroke-width="1.1" stroke-linejoin="miter"/>
<path d="M492.80,115.90 L496.80,120.70 L488.80,120.70 Z" fill="none" stroke="#a52a40" stroke-width="1.1" stroke-linejoin="miter"/>
<path d="M494.30,162.80 L498.30,167.60 L490.30,167.60 Z" fill="none" stroke="#a52a40" stroke-width="1.1" stroke-linejoin="miter"/>
<path d="M303.50,280.30 L307.50,285.10 L299.50,285.10 Z" fill="none" stroke="#a52a40" stroke-width="1.1" stroke-linejoin="miter"/>
<path d="M303.50,308.60 L307.50,313.40 L299.50,313.40 Z" fill="none" stroke="#a52a40" stroke-width="1.1" stroke-linejoin="miter"/>
<path d="M337.00,280.00 L341.00,284.80 L333.00,284.80 Z" fill="none" stroke="#a52a40" stroke-width="1.1" stroke-linejoin="miter"/>
<path d="M340.40,280.40 L344.40,285.20 L336.40,285.20 Z" fill="none" stroke="#a52a40" stroke-width="1.1" stroke-linejoin="miter"/>
<path d="M341.50,288.40 L345.50,293.20 L337.50,293.20 Z" fill="none" stroke="#a52a40" stroke-width="1.1" stroke-linejoin="miter"/>
<path d="M397.90,236.30 L401.90,241.10 L393.90,241.10 Z" fill="none" stroke="#a52a40" stroke-width="1.1" stroke-linejoin="miter"/>
<path d="M396.50,240.30 L400.50,245.10 L392.50,245.10 Z" fill="none" stroke="#a52a40" stroke-width="1.1" stroke-linejoin="miter"/>
<path d="M399.50,242.10 L403.50,246.90 L395.50,246.90 Z" fill="none" stroke="#a52a40" stroke-width="1.1" stroke-linejoin="miter"/>
<path d="M473.30,238.80 L477.30,243.60 L469.30,243.60 Z" fill="none" stroke="#a52a40" stroke-width="1.1" stroke-linejoin="miter"/>
<path d="M492.20,236.10 L496.20,240.90 L488.20,240.90 Z" fill="none" stroke="#a52a40" stroke-width="1.1" stroke-linejoin="miter"/>
<path d="M490.50,260.60 L494.50,265.40 L486.50,265.40 Z" fill="none" stroke="#a52a40" stroke-width="1.1" stroke-linejoin="miter"/>
<path d="M493.60,263.50 L497.60,268.30 L489.60,268.30 Z" fill="none" stroke="#a52a40" stroke-width="1.1" stroke-linejoin="miter"/>
<path d="M302.00,423.10 L306.00,427.90 L298.00,427.90 Z" fill="none" stroke="#a52a40" stroke-width="1.1" stroke-linejoin="miter"/>
<path d="M303.50,444.30 L307.50,449.10 L299.50,449.10 Z" fill="none" stroke="#a52a40" stroke-width="1.1" stroke-linejoin="miter"/>
<path d="M343.10,398.80 L347.10,403.60 L339.10,403.60 Z" fill="none" stroke="#a52a40" stroke-width="1.1" stroke-linejoin="miter"/>
<path d="M339.30,416.30 L343.30,421.10 L335.30,421.10 Z" fill="none" stroke="#a52a40" stroke-width="1.1" stroke-linejoin="miter"/>
<path d="M343.70,417.10 L347.70,421.90 L339.70,421.90 Z" fill="none" stroke="#a52a40" stroke-width="1.1" stroke-linejoin="miter"/>
<path d="M398.30,366.80 L402.30,371.60 L394.30,371.60 Z" fill="none" stroke="#a52a40" stroke-width="1.1" stroke-linejoin="miter"/>
<path d="M395.10,392.40 L399.10,397.20 L391.10,397.20 Z" fill="none" stroke="#a52a40" stroke-width="1.1" stroke-linejoin="miter"/>
<path d="M401.20,391.40 L405.20,396.20 L397.20,396.20 Z" fill="none" stroke="#a52a40" stroke-width="1.1" stroke-linejoin="miter"/>
<path d="M473.10,405.60 L477.10,410.40 L469.10,410.40 Z" fill="none" stroke="#a52a40" stroke-width="1.1" stroke-linejoin="miter"/>
<path d="M492.50,385.30 L496.50,390.10 L488.50,390.10 Z" fill="none" stroke="#a52a40" stroke-width="1.1" stroke-linejoin="miter"/>
<path d="M492.50,408.60 L496.50,413.40 L488.50,413.40 Z" fill="none" stroke="#a52a40" stroke-width="1.1" stroke-linejoin="miter"/>
<path d="M492.50,427.90 L496.50,432.70 L488.50,432.70 Z" fill="none" stroke="#a52a40" stroke-width="1.1" stroke-linejoin="miter"/>
<path d="M301.30,592.20 L305.30,597.00 L297.30,597.00 Z" fill="none" stroke="#a52a40" stroke-width="1.1" stroke-linejoin="miter"/>
<path d="M340.60,535.90 L344.60,540.70 L336.60,540.70 Z" fill="none" stroke="#a52a40" stroke-width="1.1" stroke-linejoin="miter"/>
<path d="M396.80,501.90 L400.80,506.70 L392.80,506.70 Z" fill="none" stroke="#a52a40" stroke-width="1.1" stroke-linejoin="miter"/>
<path d="M396.00,507.40 L400.00,512.20 L392.00,512.20 Z" fill="none" stroke="#a52a40" stroke-width="1.1" stroke-linejoin="miter"/>
<path d="M400.30,506.60 L404.30,511.40 L396.30,511.40 Z" fill="none" stroke="#a52a40" stroke-width="1.1" stroke-linejoin="miter"/>
<path d="M490.70,519.00 L494.70,523.80 L486.70,523.80 Z" fill="none" stroke="#a52a40" stroke-width="1.1" stroke-linejoin="miter"/>
<path d="M489.20,521.60 L493.20,526.40 L485.20,526.40 Z" fill="none" stroke="#a52a40" stroke-width="1.1" stroke-linejoin="miter"/>
<ellipse cx="142.0" cy="31.9" rx="5.3" ry="3.6" fill="#a3263d"/>
<text x="150.42" y="35.50" font-size="10.7" textLength="77.75" lengthAdjust="spacingAndGlyphs" fill="#1e1c1d">No toxicity (n=5)</text>
<rect x="299.70" y="14.10" width="9.6" height="5.6" fill="none" stroke="#a52a40" stroke-width="1.3"/>
<path d="M304.35,29.80 L309.55,36.20 L299.15,36.20 Z" fill="none" stroke="#a52a40" stroke-width="1.3" stroke-linejoin="miter"/>
<text x="315.01" y="20.20" font-size="10.9" textLength="85.49" lengthAdjust="spacingAndGlyphs" fill="#1e1c1d">Neurotoxicity with</text>
<text x="405.69" y="20.20" font-size="10.9" textLength="74.41" lengthAdjust="spacingAndGlyphs" fill="#1e1c1d">gr 2-4 CRS (n=6)</text>
<text x="315.00" y="36.30" font-size="10.9" textLength="101.78" lengthAdjust="spacingAndGlyphs" fill="#1e1c1d">Neurotoxicity without</text>
<text x="419.39" y="36.30" font-size="10.9" textLength="74.71" lengthAdjust="spacingAndGlyphs" fill="#1e1c1d">gr 2-4 CRS (n=4)</text>
<text x="12.97" y="44.70" font-size="17.4" textLength="9.15" lengthAdjust="spacingAndGlyphs" fill="#1e1c1d">A</text>
<text x="11.88" y="188.40" font-size="17.4" textLength="9.89" lengthAdjust="spacingAndGlyphs" fill="#1e1c1d">B</text>
<text x="12.64" y="329.30" font-size="17.4" textLength="11.03" lengthAdjust="spacingAndGlyphs" fill="#1e1c1d">C</text>
<text x="11.89" y="464.50" font-size="17.4" textLength="13.27" lengthAdjust="spacingAndGlyphs" fill="#1e1c1d">D</text>
<text transform="translate(22.00,126.06) rotate(-90)" x="0" y="0" font-size="13.7" textLength="30.76" lengthAdjust="spacingAndGlyphs" fill="#1e1c1d">IFN g</text>
<text transform="translate(39.80,177.78) rotate(-90)" x="0" y="0" font-size="13.8" textLength="134.54" lengthAdjust="spacingAndGlyphs" fill="#1e1c1d">concentration (pg/mL)</text>
<text transform="translate(22.00,267.30) rotate(-90)" x="0" y="0" font-size="13.7" textLength="29.70" lengthAdjust="spacingAndGlyphs" fill="#1e1c1d">IL-10</text>
<text transform="translate(39.80,319.48) rotate(-90)" x="0" y="0" font-size="13.8" textLength="133.93" lengthAdjust="spacingAndGlyphs" fill="#1e1c1d">concentration (pg/mL)</text>
<text transform="translate(22.00,401.12) rotate(-90)" x="0" y="0" font-size="13.7" textLength="21.05" lengthAdjust="spacingAndGlyphs" fill="#1e1c1d">IL-6</text>
<text transform="translate(39.80,456.58) rotate(-90)" x="0" y="0" font-size="13.8" textLength="133.73" lengthAdjust="spacingAndGlyphs" fill="#1e1c1d">concentration (pg/mL)</text>
<text transform="translate(22.00,540.09) rotate(-90)" x="0" y="0" font-size="13.7" textLength="25.01" lengthAdjust="spacingAndGlyphs" fill="#1e1c1d">CRP</text>
<text transform="translate(39.80,594.58) rotate(-90)" x="0" y="0" font-size="13.8" textLength="133.73" lengthAdjust="spacingAndGlyphs" fill="#1e1c1d">concentration (mg/dL)</text>
<text x="100.07" y="57.20" font-size="10.75" textLength="25.38" lengthAdjust="spacingAndGlyphs" fill="#1e1c1d">IFN-g</text>
<text x="101.75" y="197.50" font-size="10.75" textLength="23.44" lengthAdjust="spacingAndGlyphs" fill="#1e1c1d">IL-10</text>
<text x="110.02" y="341.20" font-size="10.75" textLength="16.49" lengthAdjust="spacingAndGlyphs" fill="#1e1c1d">IL-6</text>
<text x="108.14" y="476.70" font-size="10.75" textLength="19.34" lengthAdjust="spacingAndGlyphs" fill="#1e1c1d">CRP</text>
<text x="311.77" y="57.50" font-size="10.75" textLength="25.28" lengthAdjust="spacingAndGlyphs" fill="#1e1c1d">IFN-g</text>
<text x="310.38" y="198.70" font-size="10.75" textLength="22.70" lengthAdjust="spacingAndGlyphs" fill="#1e1c1d">IL-10</text>
<text x="313.87" y="340.80" font-size="10.75" textLength="17.36" lengthAdjust="spacingAndGlyphs" fill="#1e1c1d">IL-6</text>
<text x="319.55" y="476.30" font-size="10.75" textLength="19.02" lengthAdjust="spacingAndGlyphs" fill="#1e1c1d">CRP</text>
<text x="65.54" y="65.15" font-size="11.0" textLength="18.90" lengthAdjust="spacingAndGlyphs" fill="#1e1c1d">100</text>
<text x="71.52" y="122.65" font-size="11.0" textLength="12.93" lengthAdjust="spacingAndGlyphs" fill="#1e1c1d">10</text>
<text x="78.20" y="179.95" font-size="11.0" textLength="4.38" lengthAdjust="spacingAndGlyphs" fill="#1e1c1d">1</text>
<text x="58.10" y="201.25" font-size="11.0" textLength="26.30" lengthAdjust="spacingAndGlyphs" fill="#1e1c1d">1,000</text>
<text x="65.54" y="241.55" font-size="11.0" textLength="18.90" lengthAdjust="spacingAndGlyphs" fill="#1e1c1d">100</text>
<text x="71.52" y="282.25" font-size="11.0" textLength="12.93" lengthAdjust="spacingAndGlyphs" fill="#1e1c1d">10</text>
<text x="78.20" y="322.65" font-size="11.0" textLength="4.38" lengthAdjust="spacingAndGlyphs" fill="#1e1c1d">1</text>
<text x="52.10" y="340.15" font-size="11.0" textLength="32.31" lengthAdjust="spacingAndGlyphs" fill="#1e1c1d">10,000</text>
<text x="58.10" y="368.85" font-size="11.0" textLength="26.30" lengthAdjust="spacingAndGlyphs" fill="#1e1c1d">1,000</text>
<text x="65.54" y="397.75" font-size="11.0" textLength="18.90" lengthAdjust="spacingAndGlyphs" fill="#1e1c1d">100</text>
<text x="71.52" y="426.35" font-size="11.0" textLength="12.93" lengthAdjust="spacingAndGlyphs" fill="#1e1c1d">10</text>
<text x="78.10" y="455.15" font-size="11.0" textLength="5.15" lengthAdjust="spacingAndGlyphs" fill="#1e1c1d">1</text>
<text x="57.50" y="477.45" font-size="11.0" textLength="26.30" lengthAdjust="spacingAndGlyphs" fill="#1e1c1d">100.0</text>
<text x="63.08" y="517.55" font-size="11.0" textLength="20.93" lengthAdjust="spacingAndGlyphs" fill="#1e1c1d">10.0</text>
<text x="69.40" y="557.95" font-size="11.0" textLength="14.60" lengthAdjust="spacingAndGlyphs" fill="#1e1c1d">1.0</text>
<text x="69.22" y="597.75" font-size="11.0" textLength="13.44" lengthAdjust="spacingAndGlyphs" fill="#1e1c1d">0.1</text>
<text x="89.94" y="619.30" font-size="10.6" textLength="6.62" lengthAdjust="spacingAndGlyphs" fill="#1e1c1d">0</text>
<text x="104.99" y="619.30" font-size="10.6" textLength="48.69" lengthAdjust="spacingAndGlyphs" fill="#1e1c1d">CAR T-cell</text>
<text x="184.04" y="619.30" font-size="10.6" textLength="6.44" lengthAdjust="spacingAndGlyphs" fill="#1e1c1d">5</text>
<text x="276.20" y="619.30" font-size="10.6" textLength="11.70" lengthAdjust="spacingAndGlyphs" fill="#1e1c1d">10</text>
<text x="299.94" y="619.30" font-size="10.6" textLength="6.62" lengthAdjust="spacingAndGlyphs" fill="#1e1c1d">0</text>
<text x="315.98" y="619.30" font-size="10.6" textLength="49.20" lengthAdjust="spacingAndGlyphs" fill="#1e1c1d">CAR T-cell</text>
<text x="395.64" y="619.30" font-size="10.6" textLength="6.44" lengthAdjust="spacingAndGlyphs" fill="#1e1c1d">5</text>
<text x="486.22" y="619.30" font-size="10.6" textLength="12.82" lengthAdjust="spacingAndGlyphs" fill="#1e1c1d">10</text>
<text x="195.21" y="643.90" font-size="14.4" textLength="199.79" lengthAdjust="spacingAndGlyphs" fill="#1e1c1d">Number of days to  - / post- ASCT</text>
</svg>
</body></html>
